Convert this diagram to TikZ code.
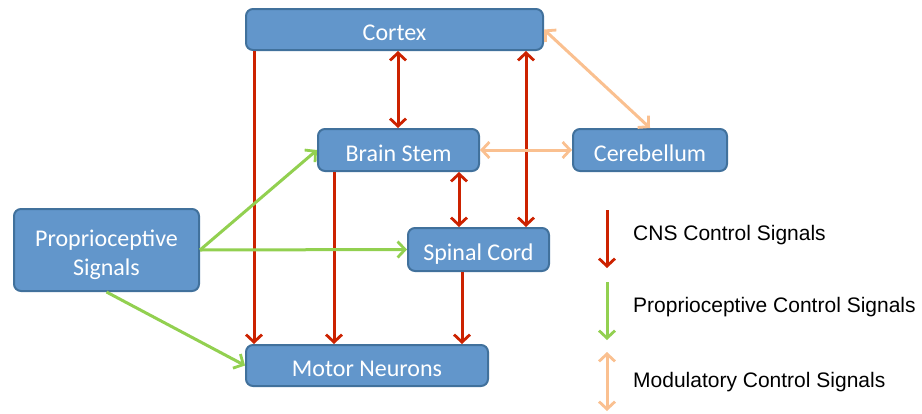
\documentclass[tikz,border=0pt]{standalone}
\usepackage{fontspec}
\setmainfont{Carlito}
\newfontfamily\legendfont{Liberation Sans}
\usetikzlibrary{arrows.meta}
\definecolor{boxfill}{RGB}{98,150,203}
\definecolor{boxline}{RGB}{65,113,156}
\definecolor{cnsred}{RGB}{204,34,0}
\definecolor{propgreen}{RGB}{146,208,80}
\definecolor{modpeach}{RGB}{250,192,144}
\tikzset{
  barbtip/.tip={Straight Barb[length=7.5pt,width=16pt,line width=2.8pt]},
  block/.style={draw=boxline, line width=2pt, fill=boxfill, rounded corners=7pt,
    text=white, font=\fontsize{24}{29}\selectfont, align=center, inner sep=0pt,
    text height=22pt, text depth=0pt},
  cns/.style={draw=cnsred, line width=3pt, -{barbtip}},
  cnsboth/.style={draw=cnsred, line width=3pt, {barbtip}-{barbtip}},
  prop/.style={draw=propgreen, line width=3pt, -{barbtip}},
  modboth/.style={draw=modpeach, line width=3pt, {barbtip}-{barbtip}},
  legendtext/.style={anchor=base west, inner sep=0pt, font=\legendfont\fontsize{21}{25}\selectfont}
}
\begin{document}
\begin{tikzpicture}[x=1pt,y=-1pt]
\useasboundingbox (0,0) rectangle (922,413);

% blocks
\node[block, minimum width=297pt, minimum height=41pt] (cortex) at (394.5,29.5) {Cortex};
\node[block, minimum width=161pt, minimum height=42pt] (stem) at (398.5,150) {Brain Stem};
\node[block, minimum width=154pt, minimum height=42pt] (cereb) at (650,150) {Cerebellum};
\node[block, minimum width=185pt, minimum height=82pt, text height=51pt] (sense) at (106.5,250) {Proprioceptive\\Signals};
\node[block, minimum width=141pt, minimum height=43pt] (cord) at (478.5,249.5) {Spinal Cord};
\node[block, minimum width=242pt, minimum height=41pt] (motor) at (367,365.5) {Motor Neurons};

% CNS control signals
\draw[cns] (cortex.south -| 254,0) -- (motor.north -| 254,0);
\draw[cnsboth] (cortex.south -| 398,0) -- (stem.north -| 398,0);
\draw[cnsboth] (cortex.south -| 526,0) -- (cord.north -| 526,0);
\draw[cns] (stem.south -| 334,0) -- (motor.north -| 334,0);
\draw[cnsboth] (stem.south -| 459,0) -- (cord.north -| 459,0);
\draw[cns] (cord.south -| 462,0) -- (motor.north -| 462,0);

% proprioceptive control signals
\draw[prop] (sense.east) -- (stem.west);
\draw[prop] (sense.east) -- (cord.west);
\draw[prop] (sense.south) -- (motor.west);

% modulatory control signals
\draw[modboth] (stem.east) -- (cereb.west);
\draw[modboth] (cortex.east) -- (cereb.north);

% legend
\coordinate (l1a) at (607,210); \coordinate (l1b) at (607,268);
\coordinate (l2a) at (607,282); \coordinate (l2b) at (607,340);
\coordinate (l3a) at (607,352); \coordinate (l3b) at (607,411);
\draw[cns] (l1a) -- (l1b);
\draw[prop] (l2a) -- (l2b);
\draw[modboth] (l3a) -- (l3b);
\node[legendtext] (t1) at (633,240) {CNS Control Signals};
\node[legendtext] (t2) at (633,312) {Proprioceptive Control Signals};
\node[legendtext] (t3) at (633,387) {Modulatory Control Signals};
\end{tikzpicture}
\end{document}
